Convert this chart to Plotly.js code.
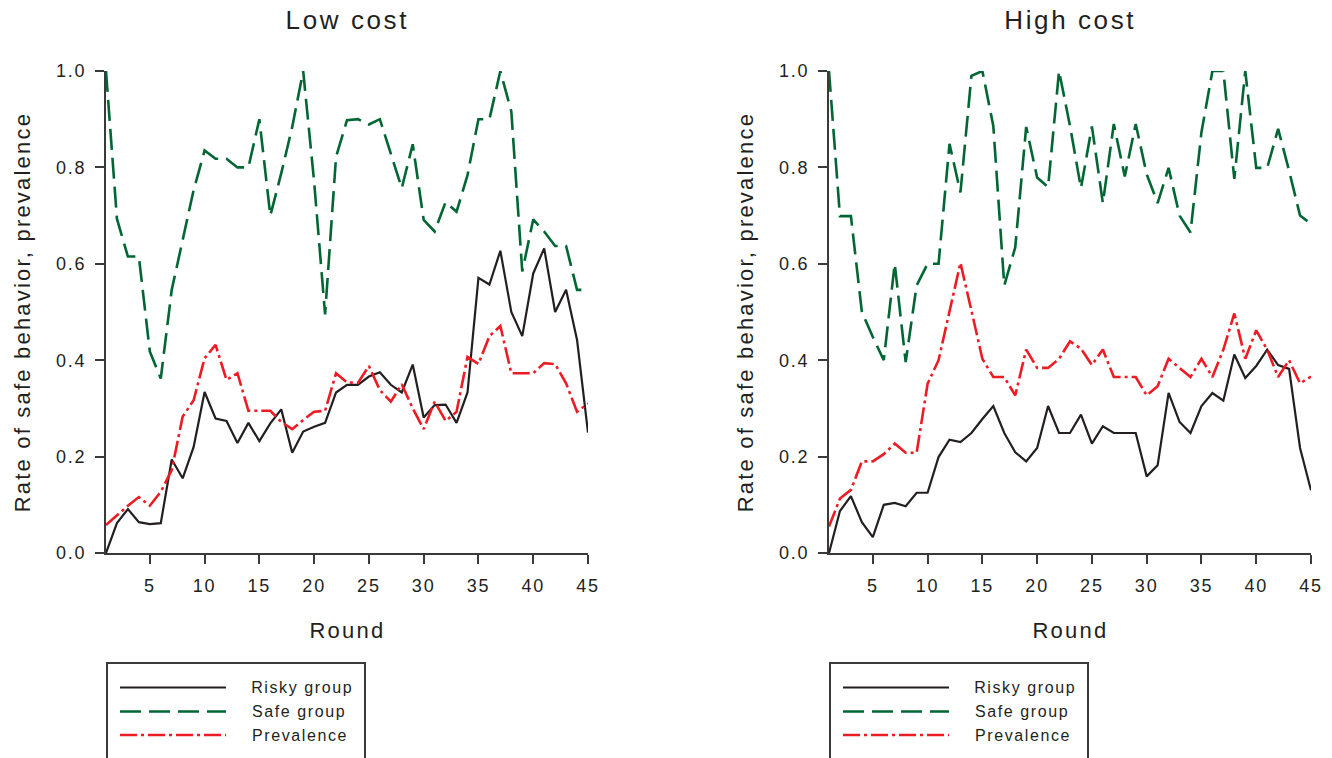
<!DOCTYPE html>
<html>
<head>
<meta charset="utf-8">
<script src="https://cdn.plot.ly/plotly-3.0.1.min.js"></script>
<style>
html,body{margin:0;padding:0;background:#fff;}
#chart{width:1332px;height:758px;}
#chart svg text{letter-spacing:0.1em;}
</style>
</head>
<body>
<div id="chart"></div>
<script>
var rounds = [1,2,3,4,5,6,7,8,9,10,11,12,13,14,15,16,17,18,19,20,21,22,23,24,25,26,27,28,29,30,31,32,33,34,35,36,37,38,39,40,41,42,43,44,45];

var lowRisky = [0.0,0.062,0.091,0.064,0.06,0.062,0.194,0.155,0.22,0.334,0.279,0.274,0.228,0.27,0.232,0.269,0.298,0.208,0.252,0.262,0.27,0.333,0.349,0.349,0.366,0.375,0.349,0.333,0.391,0.281,0.307,0.308,0.27,0.333,0.571,0.557,0.627,0.50,0.45,0.58,0.632,0.50,0.546,0.442,0.25];
var lowSafe = [1.0,0.693,0.615,0.615,0.418,0.362,0.546,0.649,0.753,0.835,0.818,0.818,0.80,0.80,0.90,0.70,0.788,0.884,1.0,0.77,0.495,0.822,0.898,0.90,0.889,0.90,0.829,0.757,0.848,0.691,0.667,0.728,0.708,0.784,0.90,0.90,1.0,0.916,0.584,0.692,0.667,0.637,0.637,0.546,0.546];
var lowPrev = [0.058,0.079,0.098,0.116,0.098,0.127,0.172,0.283,0.317,0.404,0.432,0.359,0.373,0.295,0.295,0.295,0.272,0.257,0.276,0.293,0.295,0.373,0.354,0.353,0.388,0.338,0.314,0.35,0.30,0.257,0.314,0.274,0.293,0.407,0.392,0.45,0.471,0.373,0.373,0.373,0.394,0.392,0.352,0.293,0.31];

var highRisky = [0.0,0.087,0.118,0.064,0.033,0.10,0.104,0.097,0.125,0.125,0.199,0.235,0.23,0.249,0.278,0.305,0.249,0.209,0.19,0.218,0.305,0.249,0.249,0.287,0.227,0.263,0.249,0.249,0.249,0.159,0.182,0.332,0.272,0.249,0.305,0.332,0.316,0.412,0.363,0.388,0.422,0.39,0.382,0.218,0.13];
var highSafe = [1.0,0.699,0.699,0.50,0.448,0.40,0.60,0.396,0.555,0.60,0.60,0.849,0.748,0.99,1.0,0.886,0.555,0.634,0.884,0.779,0.759,1.0,0.886,0.757,0.885,0.726,0.89,0.781,0.89,0.786,0.726,0.799,0.70,0.665,0.873,1.0,1.0,0.776,1.0,0.799,0.799,0.88,0.793,0.70,0.683];
var highPrev = [0.055,0.113,0.131,0.19,0.19,0.205,0.227,0.208,0.208,0.351,0.40,0.503,0.602,0.503,0.403,0.365,0.365,0.327,0.422,0.384,0.384,0.403,0.439,0.424,0.39,0.422,0.365,0.365,0.365,0.327,0.346,0.403,0.384,0.365,0.403,0.365,0.422,0.497,0.403,0.462,0.422,0.365,0.40,0.352,0.366];

var panelTitles = ["Low cost", "High cost"];
var seriesNames = ["Risky group", "Safe group", "Prevalence"];
var xTickVals = [5,10,15,20,25,30,35,40,45];
var xTitle = "Round";
var yTitle = "Rate of safe behavior, prevalence";

var W = 1332, H = 758;
var FONT = "Liberation Sans, Arial, sans-serif";
var TXT = "#231f20";
var AX = "#3a3a3a";
var styles = [
  {color:"#231f20", width:2.2, dash:"solid"},
  {color:"#006633", width:2.6, dash:"21px,8px"},
  {color:"#ed1c24", width:2.6, dash:"17px,4px,3px,4px"}
];

function px(x){ return x / W; }
function py(y){ return 1 - y / H; }

var panels = [
  {x0:106, x1:588, data:[lowRisky, lowSafe, lowPrev]},
  {x0:829, x1:1311, data:[highRisky, highSafe, highPrev]}
];
var yTop = 71, yBot = 553;

var traces = [];
var shapes = [];
var annotations = [];
var layout = {
  width: W, height: H,
  margin: {l:0, r:0, t:0, b:0},
  paper_bgcolor: "#fff", plot_bgcolor: "#fff",
  showlegend: false,
  font: {family: FONT, color: TXT, size: 18}
};

panels.forEach(function(p, i){
  var xa = i === 0 ? "x" : "x2";
  var ya = i === 0 ? "y" : "y2";
  p.data.forEach(function(vals, k){
    traces.push({
      x: rounds, y: vals, xaxis: xa, yaxis: ya,
      type: "scatter", mode: "lines", name: seriesNames[k],
      line: {color: styles[k].color, width: styles[k].width, dash: styles[k].dash},
      hoverinfo: "skip"
    });
  });
  var xkey = i === 0 ? "xaxis" : "xaxis2";
  var ykey = i === 0 ? "yaxis" : "yaxis2";
  layout[xkey] = {
    domain: [px(p.x0), px(p.x1)], anchor: ya,
    range: [1, 45], tickmode: "array", tickvals: xTickVals,
    showgrid: false, zeroline: false, showline: true, linecolor: AX, linewidth: 2,
    ticks: "outside", ticklen: 9, tickwidth: 2, tickcolor: AX,
    tickfont: {family: FONT, size: 18, color: TXT}, ticklabelstandoff: 6,
    automargin: false, fixedrange: true
  };
  layout[ykey] = {
    domain: [py(yBot), py(yTop)], anchor: xa,
    range: [0, 1], dtick: 0.2, tick0: 0, tickformat: ".1f",
    showgrid: false, zeroline: false, showline: true, linecolor: AX, linewidth: 2,
    ticks: "outside", ticklen: 9, tickwidth: 2, tickcolor: AX,
    tickfont: {family: FONT, size: 18, color: TXT}, ticklabelstandoff: 5,
    automargin: false, fixedrange: true
  };
  var cx = (p.x0 + p.x1) / 2;
  annotations.push({text: panelTitles[i], xref:"paper", yref:"paper", x: px(cx), y: py(20),
    xanchor:"center", yanchor:"middle", showarrow:false, font:{family:FONT, size:26, color:TXT}});
  annotations.push({text: xTitle, xref:"paper", yref:"paper", x: px(cx), y: py(630),
    xanchor:"center", yanchor:"middle", showarrow:false, font:{family:FONT, size:22, color:TXT}});
  annotations.push({text: yTitle, xref:"paper", yref:"paper", x: px(p.x0 - 84), y: py((yTop + yBot)/2),
    xanchor:"center", yanchor:"middle", textangle:-90, showarrow:false, font:{family:FONT, size:22, color:TXT}});

  // legend box
  var bx = p.x0 + 1;
  shapes.push({type:"rect", xref:"paper", yref:"paper", x0: px(bx), x1: px(bx + 258), y0: py(663), y1: py(790),
    line:{color:AX, width:2}, fillcolor:"rgba(0,0,0,0)"});
  var rowY = [687.5, 711.5, 735];
  seriesNames.forEach(function(nm, k){
    shapes.push({type:"line", xref:"paper", yref:"paper", x0: px(bx + 13), x1: px(bx + 119), y0: py(rowY[k]), y1: py(rowY[k]),
      line:{color: styles[k].color, width: styles[k].width, dash: styles[k].dash}});
    annotations.push({text: nm, xref:"paper", yref:"paper", x: px(bx + 151), y: py(rowY[k]),
      xanchor:"left", yanchor:"middle", showarrow:false, font:{family:FONT, size:16, color:TXT}});
  });
});

layout.shapes = shapes;
layout.annotations = annotations;

Plotly.newPlot("chart", traces, layout, {displayModeBar:false, staticPlot:true});
</script>
</body>
</html>
